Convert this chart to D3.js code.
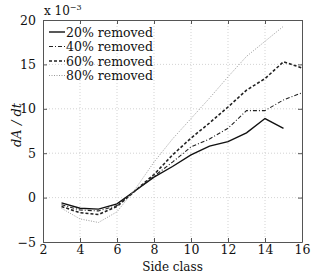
<!DOCTYPE html>
<html>
<head>
<meta charset="utf-8">
<script src="https://cdn.jsdelivr.net/npm/d3@7"></script>
<style>
  body { margin: 0; background: #fff; }
  text { font-family: "DejaVu Serif", "Liberation Serif", serif; fill: #111; }
</style>
</head>
<body>
<div id="vis" style="width:334px;height:273px"></div>
<script>
var sideClass = [3, 4, 5, 6, 7, 8, 9, 10, 11, 12, 13, 14, 15, 16];

// values in units of 1e-3
var removed20 = [-0.6, -1.2, -1.3, -0.7, 0.8, 2.3, 3.5, 4.8, 5.8, 6.3, 7.3, 8.9, 7.8, null];
var removed40 = [-0.8, -1.4, -1.5, -0.9, 0.8, 2.4, 4.0, 5.7, 6.6, 7.8, 9.8, 9.8, 11.0, 11.8];
var removed60 = [-1.0, -1.7, -1.9, -1.0, 0.8, 2.6, 4.8, 6.7, 8.4, 10.2, 12.1, 13.4, 15.3, 14.6];
var removed80 = [-1.2, -2.4, -2.8, -1.6, 1.0, 4.0, 6.6, 8.9, 11.2, 13.6, 15.9, 17.6, 19.3, null];

var seriesNames = ['20% removed', '40% removed', '60% removed', '80% removed'];
var xTicks = [2, 4, 6, 8, 10, 12, 14, 16];
var yTicks = [-5, 0, 5, 10, 15, 20];

var width = 334, height = 273;
var margin = { top: 20, right: 32, bottom: 31, left: 43 };
var w = width - margin.left - margin.right;
var h = height - margin.top - margin.bottom;

var svg = d3.select('#vis').append('svg')
  .attr('width', width)
  .attr('height', height);

var g = svg.append('g')
  .attr('transform', 'translate(' + margin.left + ',' + margin.top + ')');

var x = d3.scaleLinear().domain([2, 16]).range([0, w]);
var y = d3.scaleLinear().domain([-5, 20]).range([h, 0]);

// grid
g.selectAll('.gx').data(xTicks.slice(1, -1)).enter().append('line')
  .attr('x1', function(d) { return x(d); }).attr('x2', function(d) { return x(d); })
  .attr('y1', 0).attr('y2', h)
  .attr('stroke', '#c8c8c8').attr('stroke-width', 0.8).attr('stroke-dasharray', '1,2');
g.selectAll('.gy').data(yTicks.slice(1, -1)).enter().append('line')
  .attr('y1', function(d) { return y(d); }).attr('y2', function(d) { return y(d); })
  .attr('x1', 0).attr('x2', w)
  .attr('stroke', '#c8c8c8').attr('stroke-width', 0.8).attr('stroke-dasharray', '1,2');

// axes (ticks inward, box)
var xAxis = d3.axisBottom(x).tickValues(xTicks).tickSizeInner(-4).tickSizeOuter(0).tickPadding(3);
var yAxis = d3.axisLeft(y).tickValues(yTicks).tickSizeInner(-4).tickSizeOuter(0).tickPadding(7)
  .tickFormat(function(d) { return d < 0 ? '\u2212' + Math.abs(d) : d; });

var gx = g.append('g').attr('transform', 'translate(0,' + h + ')').call(xAxis);
var gy = g.append('g').call(yAxis);
g.append('g').call(d3.axisTop(x).tickValues(xTicks).tickSizeInner(-4).tickSizeOuter(0).tickFormat(''));
g.append('g').attr('transform', 'translate(' + w + ',0)')
  .call(d3.axisRight(y).tickValues(yTicks).tickSizeInner(-4).tickSizeOuter(0).tickFormat(''));

g.selectAll('.domain').attr('stroke', '#555');
g.selectAll('.tick line').attr('stroke', '#555');
g.selectAll('.tick text').style('font-size', '12.5px').attr('fill', '#111');

// multiplier
var mult = svg.append('text').attr('x', 44).attr('y', 15).style('font-size', '12px');
mult.append('tspan').text('x 10');
mult.append('tspan').attr('dy', -5).style('font-size', '8px').text('\u22123');

// lines
var styles = [
  { dash: null, width: 1.4, color: '#111' },
  { dash: '4,2,1,2', width: 1.1, color: '#222' },
  { dash: '3,2', width: 1.6, color: '#222' },
  { dash: '1,1.5', width: 1.0, color: '#999' }
];
var allSeries = [removed20, removed40, removed60, removed80];

var line = d3.line()
  .defined(function(d) { return d != null; })
  .x(function(d, i) { return x(sideClass[i]); })
  .y(function(d) { return y(d); });

allSeries.forEach(function(s, i) {
  g.append('path')
    .datum(s)
    .attr('d', line)
    .attr('fill', 'none')
    .attr('stroke', styles[i].color)
    .attr('stroke-width', styles[i].width)
    .attr('stroke-dasharray', styles[i].dash);
});

// legend
var legend = g.append('g').attr('transform', 'translate(6,12)');
seriesNames.forEach(function(name, i) {
  var row = legend.append('g').attr('transform', 'translate(0,' + (i * 14.5) + ')');
  row.append('line')
    .attr('x1', 0).attr('x2', 16).attr('y1', 0).attr('y2', 0)
    .attr('stroke', styles[i].color)
    .attr('stroke-width', styles[i].width)
    .attr('stroke-dasharray', styles[i].dash);
  row.append('text').attr('x', 17).attr('y', 4.5)
    .style('font-size', '12.5px').text(name);
});

// axis labels
svg.append('text')
  .attr('x', margin.left + w / 2).attr('y', 271)
  .attr('text-anchor', 'middle')
  .style('font-size', '12px')
  .text('Side class');

svg.append('text')
  .attr('transform', 'translate(21,' + (margin.top + h / 2 - 6) + ')rotate(-90)')
  .attr('text-anchor', 'middle')
  .style('font-size', '13px')
  .style('font-style', 'italic')
  .text('dA / dt');
</script>
</body>
</html>
